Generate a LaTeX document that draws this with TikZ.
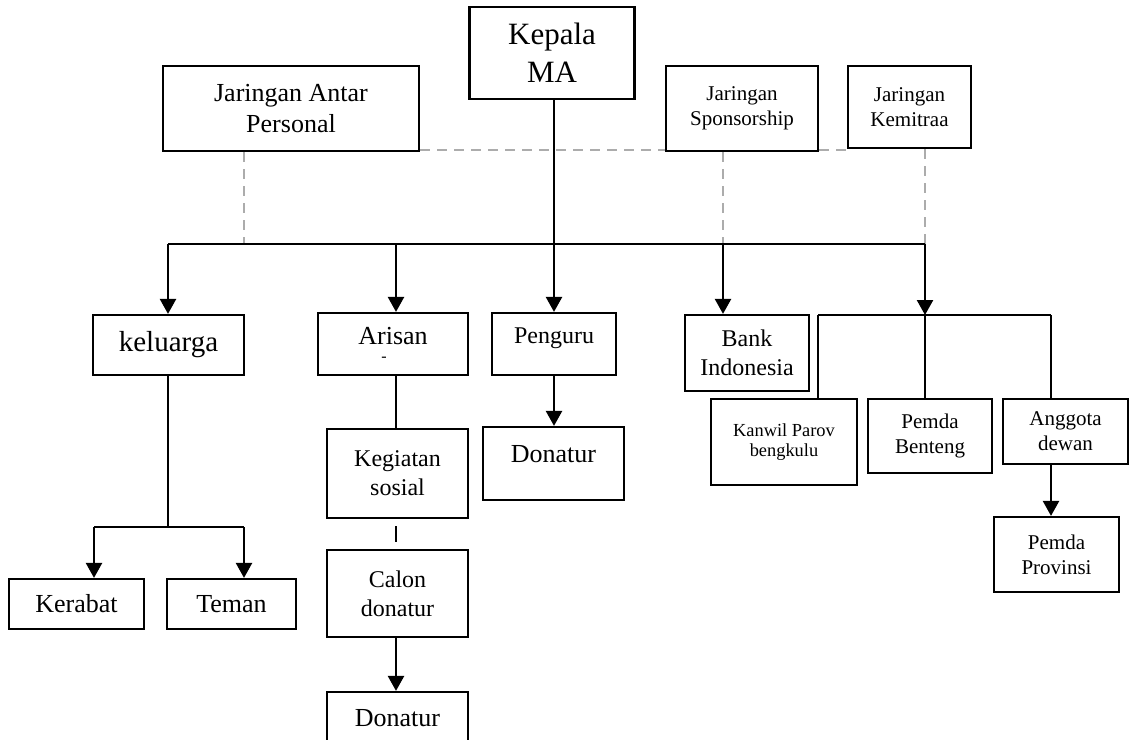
\documentclass[tikz,border=0pt]{standalone}
\usepackage{fontspec}
\setmainfont{Liberation Serif}
\usetikzlibrary{positioning, arrows.meta, calc}

\begin{document}
\begin{tikzpicture}[x=0.5pt, y=-0.5pt]
	% Define styles
	\tikzset{
		block/.style={rectangle, draw, line width=1.1pt, align=center, inner sep=1pt},
		line/.style={draw, line width=1.2pt, -{Triangle[width=8pt,length=7.5pt]}},
		link/.style={draw, line width=1.1pt},
		dashline/.style={draw, gray!65, line width=1.1pt, dash pattern=on 5pt off 3.5pt},
		txtL/.style={font=\fontsize{15.5}{19}\selectfont},
		txtK/.style={font=\fontsize{14.5}{17}\selectfont},
		txtM/.style={font=\fontsize{13}{15.5}\selectfont},
		txtS/.style={font=\fontsize{12}{14.5}\selectfont},
		txtXS/.style={font=\fontsize{10.5}{12.5}\selectfont},
		txtXXS/.style={font=\fontsize{9.2}{10}\selectfont}
	}
	\useasboundingbox (0,0) rectangle (1133,739);
	
	% Nodes
	\node[block, txtL, minimum width=82.5pt, minimum height=46pt] (kepala) at (552,53) {Kepala\\MA};
	\node[block, txtM, minimum width=128pt, minimum height=42.5pt] (jap) at (291,108.5) {Jaringan Antar\\Personal};
	\node[block, txtXS, minimum width=76pt, minimum height=42.5pt] (jspon) at (742,108.5) {Jaringan\\Sponsorship};
	\node[block, txtXS, minimum width=61.5pt, minimum height=41pt] (jmitra) at (909.5,107) {Jaringan\\Kemitraa};
	
	\node[block, txtK, minimum width=75.5pt, minimum height=30pt] (keluarga) at (168.5,345) {keluarga};
	\node[block, txtM, minimum width=75pt, minimum height=31pt] (arisan) at (393,344) {Arisan\\[-7pt]{\fontsize{8}{8}\selectfont -\hspace*{9pt}}};
	\node[block, txtS, text depth=8pt, minimum width=62pt, minimum height=31pt] (penguru) at (554,344) {Penguru};
	\node[block, txtS, minimum width=62pt, minimum height=38pt] (bank) at (747,353) {Bank\\Indonesia};
	
	\node[block, txtXXS, minimum width=73pt, minimum height=43pt] (kanwil) at (784,442) {Kanwil Parov\\bengkulu};
	\node[block, txtXS, minimum width=62pt, minimum height=37pt] (pbenteng) at (930,436) {Pemda\\Benteng};
	\node[block, txtXS, minimum width=62.5pt, minimum height=32.5pt] (anggota) at (1065.5,431.5) {Anggota\\dewan};
	\node[block, txtXS, minimum width=62.5pt, minimum height=37.5pt] (pprov) at (1056.5,554.5) {Pemda\\Provinsi};
	
	\node[block, txtM, text depth=10pt, minimum width=70.5pt, minimum height=36.5pt] (donatur1) at (553.5,463.5) {Donatur};
	\node[block, txtS, minimum width=70.5pt, minimum height=44.5pt] (kegiatan) at (397.5,473.5) {Kegiatan\\sosial};
	\node[block, txtS, minimum width=70.5pt, minimum height=43.5pt] (calon) at (397.5,593.5) {Calon\\donatur};
	\node[block, txtM, text depth=11pt, minimum width=70.5pt, minimum height=36.5pt] (donatur2) at (397.5,728.5) {Donatur};
	
	\node[block, txtM, minimum width=67.5pt, minimum height=25pt] (kerabat) at (76.5,604) {Kerabat};
	\node[block, txtM, minimum width=64.5pt, minimum height=25pt] (teman) at (231.5,604) {Teman};
	
	% Junction points
	\coordinate (bus0) at (244,244);
	\coordinate (bus1) at (168,244);
	\coordinate (bus2) at (396,244);
	\coordinate (bus3) at (554,244);
	\coordinate (bus4) at (723,244);
	\coordinate (bus5) at (925,244);
	\coordinate (br) at (925,315);
	\coordinate (brL) at (818,315);
	\coordinate (brR) at (1051,315);
	\coordinate (kel) at (168,527);
	\coordinate (kelL) at (94,527);
	\coordinate (kelR) at (244,527);
	
	% Dashed links
	\path[dashline] ([yshift=1pt]jap.south east) -- ([yshift=1pt]jap.south east -| jspon.west);
	\path[dashline] ([yshift=1pt]jspon.south east) -- ([yshift=1pt]jspon.south east -| jmitra.west);
	\path[dashline] (jap.south -| bus0) -- (bus0);
	\path[dashline] (jspon.south -| bus4) -- (bus4);
	\path[dashline] (jmitra.south -| bus5) -- (bus5);
	
	% Lines
	\path[draw, line width=0.8pt] (kepala.south -| bus3) -- (bus3);
	\path[link] (bus1) -- (bus5);
	\path[link] (brL) -- (brR);
	\path[link] (brL) -- (brL |- kanwil.north);
	\path[link] (br) -- (br |- pbenteng.north);
	\path[link] (brR) -- (brR |- anggota.north);
	\path[link] (keluarga.south -| kel) -- (kel);
	\path[link] (kelL) -- (kelR);
	\path[link] (arisan.south -| bus2) -- (bus2 |- kegiatan.north);
	\path[link, shorten <=3.5pt, shorten >=3.5pt] (kegiatan.south -| bus2) -- (bus2 |- calon.north);
	
	% Arrows
	\path[line] (bus1) -- (bus1 |- keluarga.north);
	\path[line] (bus2) -- (bus2 |- arisan.north);
	\path[line] (bus3) -- (bus3 |- penguru.north);
	\path[line] (bus4) -- (bus4 |- bank.north);
	\path[line] (bus5) -- (br);
	
	\path[line] (kelL) -- (kelL |- kerabat.north);
	\path[line] (kelR) -- (kelR |- teman.north);
	\path[line] (penguru.south -| bus3) -- (bus3 |- donatur1.north);
	\path[line] (calon.south -| bus2) -- (bus2 |- donatur2.north);
	\path[line] (anggota.south -| brR) -- (brR |- pprov.north);
\end{tikzpicture}
\end{document}
